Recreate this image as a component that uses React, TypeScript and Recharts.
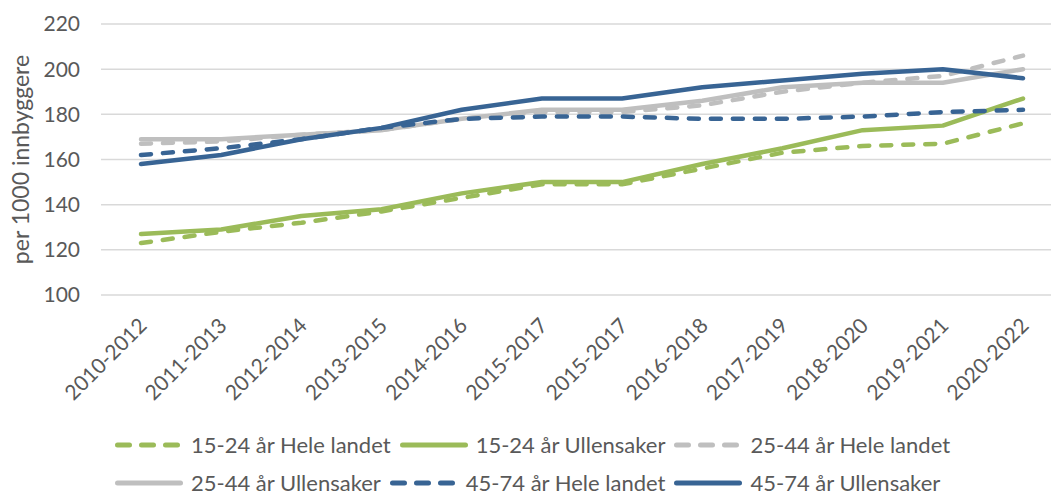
import { LineChart, Line, XAxis, YAxis, CartesianGrid, Label } from "recharts";

const periods = [
  "2010-2012",
  "2011-2013",
  "2012-2014",
  "2013-2015",
  "2014-2016",
  "2015-2017",
  "2015-2017",
  "2016-2018",
  "2017-2019",
  "2018-2020",
  "2019-2021",
  "2020-2022",
];

const ung_hele = [123, 128, 132, 137, 143, 149, 149, 156, 163, 166, 167, 176];
const ung_ull = [127, 129, 135, 138, 145, 150, 150, 158, 165, 173, 175, 187];
const mid_hele = [167, 168, 171, 173, 178, 181, 181, 184, 190, 194, 197, 206];
const mid_ull = [169, 169, 171, 173, 178, 182, 182, 186, 192, 194, 194, 200];
const eld_hele = [162, 165, 169, 174, 178, 179, 179, 178, 178, 179, 181, 182];
const eld_ull = [158, 162, 169, 174, 182, 187, 187, 192, 195, 198, 200, 196];

const yTicks = [100, 120, 140, 160, 180, 200, 220];

const GREEN = "#9BBB59";
const GRAY = "#BFBFBF";
const BLUE = "#386494";
const TEXT = "#595959";
const FONT = "Lato, 'Open Sans', sans-serif";

const series = [
  { key: "ung_hele", name: "15-24 år Hele landet", color: GREEN, dashed: true, values: ung_hele },
  { key: "ung_ull", name: "15-24 år Ullensaker", color: GREEN, dashed: false, values: ung_ull },
  { key: "mid_hele", name: "25-44 år Hele landet", color: GRAY, dashed: true, values: mid_hele },
  { key: "mid_ull", name: "25-44 år Ullensaker", color: GRAY, dashed: false, values: mid_ull },
  { key: "eld_hele", name: "45-74 år Hele landet", color: BLUE, dashed: true, values: eld_hele },
  { key: "eld_ull", name: "45-74 år Ullensaker", color: BLUE, dashed: false, values: eld_ull },
];

const data = periods.map((p, i) => {
  const row: Record<string, string | number> = { period: p };
  series.forEach((s) => {
    row[s.key] = s.values[i];
  });
  return row;
});

function XTick({ x, y, payload }: any) {
  const tx = x + 7;
  const ty = y + 24;
  return (
    <text
      x={tx}
      y={ty}
      transform={`rotate(-45, ${tx}, ${ty})`}
      textAnchor="end"
      fill={TEXT}
      fontSize={21}
      fontFamily={FONT}
    >
      {payload.value}
    </text>
  );
}

function YLabel({ viewBox }: any) {
  const x = viewBox.x + 29;
  const y = viewBox.y + viewBox.height / 2;
  return (
    <text
      x={x}
      y={y}
      transform={`rotate(-90, ${x}, ${y})`}
      textAnchor="middle"
      fill={TEXT}
      fontSize={23}
      fontFamily={FONT}
    >
      per 1000 innbyggere
    </text>
  );
}

function LegendItem({ s }: { s: (typeof series)[number] }) {
  return (
    <div style={{ display: "flex", alignItems: "center", marginRight: 9 }}>
      <svg width={68} height={10} style={{ marginRight: 8 }}>
        <line
          x1={2.5}
          y1={5}
          x2={65.5}
          y2={5}
          stroke={s.color}
          strokeWidth={5}
          strokeLinecap="round"
          strokeDasharray={s.dashed ? "12 12" : undefined}
        />
      </svg>
      <span style={{ fontSize: 22, lineHeight: 1, color: TEXT, fontFamily: FONT, whiteSpace: "nowrap" }}>
        {s.name}
      </span>
    </div>
  );
}

export default function App() {
  const rows = [series.slice(0, 3), series.slice(3, 6)];
  return (
    <div
      style={{
        position: "absolute",
        left: 0,
        top: 0,
        width: 1051,
        height: 497,
        overflow: "hidden",
        background: "#fff",
      }}
    >
      <LineChart width={1063} height={420} data={data} margin={{ top: 24, right: 0, bottom: 0, left: 0 }}>
        <CartesianGrid vertical={false} stroke="#D9D9D9" strokeWidth={1.5} />
        <XAxis
          dataKey="period"
          height={125}
          axisLine={false}
          tickLine={false}
          interval={0}
          padding={{ left: 40, right: 40 }}
          tick={<XTick />}
        />
        <YAxis
          width={101}
          domain={[100, 220]}
          ticks={yTicks}
          axisLine={false}
          tickLine={false}
          tickSize={6}
          tickMargin={15}
          tick={{ fill: TEXT, fontSize: 21, fontFamily: FONT }}
        >
          <Label content={<YLabel />} />
        </YAxis>
        {series.map((s) => (
          <Line
            key={s.key}
            type="linear"
            dataKey={s.key}
            name={s.name}
            stroke={s.color}
            strokeWidth={4.5}
            strokeDasharray={s.dashed ? "10 12" : undefined}
            strokeLinecap="round"
            strokeLinejoin="round"
            dot={false}
            activeDot={false}
            isAnimationActive={false}
          />
        ))}
      </LineChart>
      {rows.map((row, r) => (
        <div
          key={r}
          style={{
            position: "absolute",
            left: 115,
            top: 430 + r * 38,
            height: 30,
            display: "flex",
            alignItems: "center",
          }}
        >
          {row.map((s) => (
            <LegendItem key={s.key} s={s} />
          ))}
        </div>
      ))}
    </div>
  );
}
